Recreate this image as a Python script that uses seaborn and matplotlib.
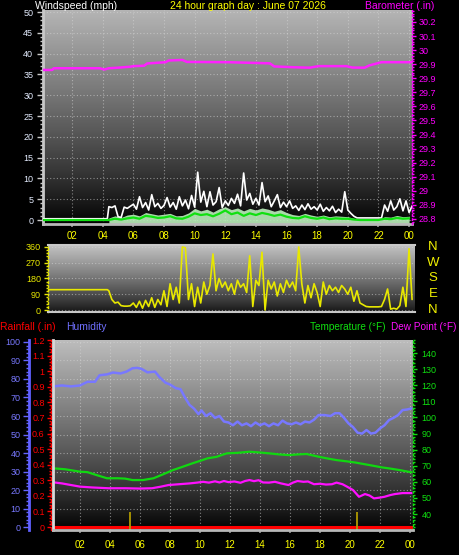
import numpy as np
import seaborn as sns
import matplotlib.pyplot as plt
from matplotlib.colors import LinearSegmentedColormap
from matplotlib.ticker import MultipleLocator, FixedLocator, FuncFormatter

# ---------------- data (hours of the day) ----------------
tick_hours = [2, 4, 6, 8, 10, 12, 14, 16, 18, 20, 22, 24]
tick_labels = ["02", "04", "06", "08", "10", "12", "14", "16", "18", "20", "22", "00"]

# wind: calm until ~04:24, then readings every 0.2 h (gust) / 0.4 h (speed, average)
wind_start = 4.4
calm_hours = [0.1, 4.3]
calm_gust = [0.3, 0.3]
calm_avg = [0.0, 0.0]
gust_mph = [3.2, 3.0, 3.4, 0.8, 0.6, 3.1,
            2.8, 3.3, 3.8, 2.6, 5.6, 3.0,
            4.2, 2.4, 6.1, 3.2, 4.0, 2.8,
            3.5, 5.4, 3.1, 4.2, 2.6, 5.6,
            3.4, 4.8, 2.7, 5.9, 3.1, 11.5,
            4.3, 6.9, 3.2, 6.8, 3.6, 4.4,
            7.8, 3.0, 4.6, 3.5, 5.2, 4.0,
            6.2, 3.4, 11.3, 4.8, 6.4, 3.8,
            5.2, 3.6, 9.0, 4.4, 5.8, 3.2,
            4.6, 6.1, 3.0, 4.3, 3.2, 4.6,
            2.8, 3.4, 2.3, 3.6, 2.5, 3.9,
            2.6, 3.2, 2.4, 3.8, 2.1, 3.0,
            2.2, 3.3, 1.8, 2.6, 1.9, 6.8,
            2.4, 1.6, 0.9, 0.5, 0.5, 0.5,
            0.5, 0.5, 0.5, 0.5, 0.5, 0.5,
            3.6, 2.1, 4.6, 2.4, 3.2, 5.1,
            2.2, 4.6, 1.8, 3.4]
speed_mph = [0.5, 1.0, 0.6, 1.2, 1.4, 1.0, 1.8, 1.5, 1.2, 1.4,
             1.6, 1.0, 1.1, 1.7, 2.8, 2.2, 2.6, 1.9, 2.7, 3.2,
             2.5, 2.9, 2.2, 2.8, 2.4, 2.9, 2.6, 2.1, 2.5, 1.8,
             1.3, 1.1, 1.6, 1.2, 0.9, 1.2, 0.8, 1.0, 0.9, 0.8,
             0.4, 0.1, 0.1, 0.1, 0.1, 0.8, 0.7, 1.1, 0.8, 0.9]
avg_mph = [0.0, 0.3, 0.1, 0.4, 0.6, 0.3, 1.0, 0.8, 0.5, 0.6,
           0.9, 0.4, 0.3, 0.8, 1.6, 1.2, 1.4, 0.9, 1.5, 2.3,
           1.4, 1.8, 1.0, 1.6, 1.2, 1.7, 1.4, 1.0, 1.3, 0.8,
           0.5, 0.4, 0.9, 0.5, 0.3, 0.6, 0.2, 0.4, 0.3, 0.3,
           0.1, 0.0, 0.0, 0.0, 0.0, 0.3, 0.2, 0.5, 0.3, 0.4]

baro_hours = [0.1, 0.7, 0.8, 3.8, 4.1, 4.4, 5.0, 5.8, 6.0, 6.7, 6.9, 8.1, 8.3, 9.2,
              9.5, 12.2, 14.9, 15.2, 16.5, 17.5, 18.1, 19.9, 20.3, 21.1, 21.4, 22.2, 24.2]
baro_in = [29.859, 29.859, 29.871, 29.871, 29.862, 29.871, 29.875, 29.882, 29.886,
           29.889, 29.905, 29.914, 29.926, 29.930, 29.916, 29.914, 29.906, 29.884,
           29.878, 29.875, 29.886, 29.886, 29.876, 29.875, 29.891, 29.914, 29.914]
baro_ticks = [28.8, 28.9, 29.0, 29.1, 29.2, 29.3, 29.4, 29.5, 29.6, 29.7, 29.8, 29.9, 30.0, 30.1, 30.2]
baro_labels = ["28.8", "28.9", "29", "29.1", "29.2", "29.3", "29.4", "29.5",
               "29.6", "29.7", "29.9", "29.9", "30", "30.1", "30.2"]

# wind direction: steady before the wind starts, then every 0.2 h
dir_calm_hours = [0.45, 4.3]
dir_calm_deg = [116, 116]
dir_deg = [110, 60, 40, 45, 25,
           22, 22, 24, 40, 15,
           50, 10, 55, 20, 70,
           15, 60, 30, 110, 20,
           150, 60, 130, 40, 360,
           355, 60, 150, 20, 130,
           40, 160, 90, 140, 320,
           110, 180, 130, 160, 110,
           150, 90, 170, 130, 150,
           100, 310, 20, 170, 140,
           330, 0, 170, 120, 160,
           80, 150, 100, 170, 130,
           160, 110, 360, 150, 40,
           140, 70, 150, 100, 20,
           160, 90, 140, 110, 130,
           100, 140, 120, 90, 130,
           50, 110, 40, 30, 20,
           18, 18, 18, 18, 20,
           60, 120, 5, 10, 5,
           25, 130, 20, 350, 60]
compass = ["N", "W", "S", "E", "N"]
compass_deg = [360, 270, 180, 90, 0]

hum_hours = [0.2, 0.8, 1.4, 2.0, 2.5, 3.0, 3.3, 3.8, 4.2, 4.7, 5.1, 5.5, 5.8, 6.1, 6.5, 7.0,
             7.3, 7.7, 8.0, 8.4, 8.7, 9.0, 9.3, 9.6, 9.9, 10.1, 10.4, 10.7, 11.0, 11.3, 11.6,
             11.9, 12.2, 12.5, 12.8, 13.1, 13.4, 13.7, 14.0, 14.3, 14.6, 14.9, 15.2, 15.5,
             15.8, 16.1, 16.4, 16.7, 17.0, 17.3, 17.6, 17.9, 18.3, 18.7, 19.0, 19.3, 19.6,
             19.9, 20.2, 20.5, 20.8, 21.1, 21.4, 21.7, 22.0, 22.3, 22.6, 22.9, 23.2, 23.5,
             23.8, 24.1]
hum_pct = [76, 76.5, 76, 76.5, 78.5, 78.5, 82, 82.5, 83.5, 83, 84, 85.8, 86, 85.5, 83.6, 84,
           81, 78, 77, 75, 74.5, 70, 66, 64, 61, 63, 60, 61.5, 59, 60, 57,
           56.5, 55, 57, 55, 56, 54.5, 56.5, 55, 56, 54.5, 56, 55, 57.5,
           56, 55.5, 56.5, 55.5, 57, 56.5, 58, 60.5, 60.5, 60, 61.5, 61.5, 59,
           56, 54, 51, 50.5, 52.4, 50.5, 51, 53.3, 55, 57.8, 59, 60.5, 63.2,
           63.5, 64.1]

temp_hours = [0.2, 1.0, 2.0, 2.5, 3.1, 3.8, 4.5, 5.0, 5.5, 6.2, 6.9, 7.5, 8.2, 8.8, 9.5,
              10.0, 10.5, 11.1, 11.5, 11.8, 12.5, 13.3, 14.0, 14.6, 15.3, 15.9, 16.5,
              17.1, 17.9, 18.5, 19.1, 19.8, 20.4, 21.3, 22.1, 22.7, 23.3, 24.1]
temp_f = [68.4, 67.8, 66.3, 66.0, 64.2, 62.2, 62.2, 62.0, 61.1, 61.1, 62.2, 64.5, 67.3,
          69.2, 71.5, 73.0, 74.6, 75.5, 76.8, 77.7, 78.0, 78.7, 78.2, 77.7, 77.0, 76.6,
          77.0, 77.3, 75.6, 74.5, 73.5, 72.7, 71.9, 70.4, 69.0, 68.2, 67.3, 65.9]

dew_hours = [0.2, 0.8, 1.4, 2.0, 2.8, 3.9, 5.0, 6.0, 6.8, 7.4, 7.9, 8.6, 9.3, 9.8, 10.2,
             10.6, 11.0, 11.3, 11.6, 11.9, 12.3, 12.7, 13.0, 13.3, 13.6, 13.9, 14.2, 14.6,
             15.0, 15.4, 15.9, 16.2, 16.5, 16.9, 17.2, 17.6, 18.0, 18.4, 18.8, 19.1, 19.5,
             19.8, 20.2, 20.6, 21.0, 21.3, 21.6, 22.0, 22.3, 22.7, 23.0, 23.5, 24.1]
dew_f = [59.7, 59.0, 58.0, 57.0, 56.5, 56.0, 56.0, 55.8, 56.0, 57.0, 58.0, 58.5, 59.0, 59.5,
         60.0, 59.5, 60.3, 59.6, 60.5, 59.8, 60.2, 59.4, 60.5, 61.1, 60.4, 61.0, 59.6, 59.5,
         60.0, 59.0, 58.0, 59.5, 60.5, 60.0, 60.2, 58.5, 58.8, 58.3, 58.5, 59.5, 58.5,
         57.0, 54.9, 50.7, 52.4, 51.5, 49.7, 50.2, 50.7, 51.8, 52.4, 53.0, 53.0]

rain_hours = [0.2, 24.2]
rain_in = [0.0, 0.0]
rain_event_hours = [5.33, 20.47]
rain_event_in = [0.095, 0.095]

# ---------------- figure ----------------
sns.set_theme(style="dark")
plt.rcParams['font.family'] = ['Liberation Sans', 'DejaVu Sans']

W, H = 459, 555
fig = plt.figure(figsize=(W / 100, H / 100), dpi=100, facecolor='black')


def box(x0, y0, x1, y1):
    return [x0 / W, 1 - y1 / H, (x1 - x0) / W, (y1 - y0) / H]


def shade(ax, top, bottom):
    cmap = LinearSegmentedColormap.from_list('bg', [bottom, top])
    ramp = np.linspace(1, 0, 256) ** 0.85
    ax.imshow(ramp.reshape(-1, 1), cmap=cmap, vmin=0, vmax=1, aspect='auto',
              extent=(0, 1, 0, 1), transform=ax.transAxes, zorder=0,
              interpolation='bilinear')


def clear_labels(*axes):
    for a in axes:
        a.set_xlabel('')
        a.set_ylabel('')


grid_kw = dict(color='#d8d8d8', ls=(0, (1, 2)), lw=0.8, alpha=0.55)

# ---- top: wind speed + barometer ----
ax_w = fig.add_axes(box(43, 10, 412, 224))
shade(ax_w, '#b4b4b4', '#000000')
gust_t = wind_start + 0.2 * np.arange(len(gust_mph))
slow_t = wind_start + 0.4 * np.arange(len(speed_mph))
ax_w.fill_between(slow_t, -0.96, speed_mph, color='#bcf0bc', alpha=0.9, lw=0, zorder=2)
sns.lineplot(x=calm_hours + list(gust_t), y=calm_gust + gust_mph, ax=ax_w,
             color='white', lw=1.2, zorder=3)
sns.lineplot(x=calm_hours + list(slow_t), y=calm_avg + avg_mph, ax=ax_w,
             color='#10e010', lw=1.6, zorder=4)

ax_b = ax_w.twinx()
sns.lineplot(x=baro_hours, y=baro_in, ax=ax_b, color='#ff20ff', lw=1.8)
clear_labels(ax_w, ax_b)

ax_w.set_ylim(-0.96, 50.5)
ax_b.set_ylim(28.764, 30.285)
ax_w.set_xlim(0.1, 24.19)
ax_w.set_xticks(tick_hours)
ax_w.set_xticklabels(tick_labels)
ax_w.yaxis.set_major_locator(MultipleLocator(5))
ax_w.yaxis.set_minor_locator(MultipleLocator(1))
ax_w.tick_params(axis='y', which='major', left=True, colors='#c8c8c8', labelcolor='#e4ecff',
                 length=4, width=1, labelsize=6.5, pad=3)
ax_w.tick_params(axis='y', which='minor', left=True, colors='#c8c8c8', length=2, width=1)
ax_w.tick_params(axis='x', bottom=True, colors='#909090', labelcolor='#ffff00',
                 length=2, labelsize=7, pad=3)
ax_w.grid(True, which='major', **grid_kw)
ax_b.yaxis.set_major_locator(FixedLocator(baro_ticks))
ax_b.set_yticklabels(baro_labels)
ax_b.yaxis.set_minor_locator(MultipleLocator(0.02))
ax_b.tick_params(axis='y', which='major', right=True, colors='#ff00ff', labelcolor='#ff00ff',
                 length=3, width=1, labelsize=6.5, pad=2)
ax_b.tick_params(axis='y', which='minor', right=True, colors='#ff00ff', length=1.5, width=1)
ax_w.spines['top'].set_visible(False)
ax_b.spines['top'].set_visible(False)
ax_w.spines['right'].set_visible(False)
ax_w.spines['left'].set(color='#c8c8c8', lw=2)
ax_w.spines['bottom'].set(color='#b8b8b8', lw=2)
ax_b.spines['left'].set_visible(False)
ax_b.spines['bottom'].set_visible(False)
ax_b.spines['right'].set(color='#ff00ff', lw=1, ls=(0, (1, 2)))

# ---- middle: wind direction ----
ax_d = fig.add_axes(box(48, 245, 415, 312))
shade(ax_d, '#c4c4c4', '#141414')
dir_t = wind_start + 0.2 * np.arange(len(dir_deg))
sns.lineplot(x=dir_calm_hours + list(dir_t), y=dir_calm_deg + dir_deg, ax=ax_d,
             color='#e8e800', lw=1.2, zorder=3)
clear_labels(ax_d)
ax_d.set_xlim(0.43, 24.39)
ax_d.set_ylim(-11.4, 371)
ax_d.set_xticks([])
ax_d.set_yticks([0, 90, 180, 270, 360])
ax_d.yaxis.set_minor_locator(MultipleLocator(18))
ax_d.tick_params(axis='y', which='major', left=True, colors='#e8e800', labelcolor='#e8e800',
                 length=3, width=1, labelsize=6.5, pad=2)
ax_d.tick_params(axis='y', which='minor', left=True, colors='#e8e800', length=1.5, width=1)
ax_d.grid(True, axis='y', **grid_kw)
ax_d.spines['right'].set_visible(False)
ax_d.spines['left'].set(color='#e8e800', lw=1, ls=(0, (1, 2)))
ax_d.spines['top'].set(color='#c8c8c8', lw=1.5)
ax_d.spines['bottom'].set(color='#c8c8c8', lw=1.5)
for lab, deg in zip(compass, compass_deg):
    ax_d.text(1.049, deg, lab, transform=ax_d.get_yaxis_transform(), color='#f0f000',
              fontsize=9.5, ha='center', va='center')

# ---- bottom: humidity, rainfall, temperature, dew point ----
ax_h = fig.add_axes(box(53, 340, 413, 530))
shade(ax_h, '#bcbcbc', '#000000')
sns.lineplot(x=hum_hours, y=hum_pct, ax=ax_h, color='#7878ff', lw=1.8, zorder=3)

ax_r = ax_h.twinx()
ax_r.set_ylim(-0.019, 1.2)
sns.lineplot(x=rain_hours, y=rain_in, ax=ax_r, color='#ff0000', lw=2.2)
ax_r.vlines(rain_event_hours, ax_r.get_ylim()[0], rain_event_in, color='#b09a00', lw=1.3)

ax_t = ax_h.twinx()
sns.lineplot(x=temp_hours, y=temp_f, ax=ax_t, color='#10d810', lw=1.6)
sns.lineplot(x=dew_hours, y=dew_f, ax=ax_t, color='#ff10ff', lw=1.6)
clear_labels(ax_h, ax_r, ax_t)

ax_h.set_xlim(0.2, 24.2)
ax_h.set_ylim(-1.62, 101.08)
ax_r.set_ylim(-0.019, 1.2)
ax_t.set_ylim(30.06, 148.1)
ax_h.set_xticks(tick_hours)
ax_h.set_xticklabels(tick_labels)
ax_h.tick_params(axis='x', bottom=True, colors='#909090', labelcolor='#ffff00',
                 length=2, labelsize=7, pad=5)
ax_h.yaxis.set_major_locator(MultipleLocator(10))
ax_h.yaxis.set_minor_locator(MultipleLocator(2))
ax_h.tick_params(axis='y', which='major', left=True, colors='#6464ff', labelcolor='#7878ff',
                 length=4, width=1, labelsize=6.5, pad=2)
ax_h.tick_params(axis='y', which='minor', left=True, colors='#6464ff', length=2, width=1)
ax_h.grid(True, which='major', **grid_kw)
for s in ['top', 'right', 'bottom']:
    ax_h.spines[s].set_visible(False)
ax_h.spines['left'].set_position(('outward', 17.3))
ax_h.spines['left'].set(color='#6060ff', lw=2)

ax_r.yaxis.tick_left()
ax_r.yaxis.set_major_locator(MultipleLocator(0.1))
ax_r.yaxis.set_minor_locator(MultipleLocator(0.02))
ax_r.yaxis.set_major_formatter(FuncFormatter(lambda v, p: f"{round(v, 1):g}"))
ax_r.tick_params(axis='y', which='major', left=True, right=False, colors='#ff0000',
                 labelcolor='#ff0000', length=3, width=1, labelsize=6.5, pad=1.5)
ax_r.tick_params(axis='y', which='minor', left=True, right=False, colors='#ff0000',
                 length=1.5, width=1)
for s in ['top', 'right', 'bottom']:
    ax_r.spines[s].set_visible(False)
ax_r.spines['left'].set_position(('outward', 1.5))
ax_r.spines['left'].set(visible=True, color='#ff0000', lw=1, ls=(0, (2, 2)))

ax_t.yaxis.set_major_locator(FixedLocator([40, 50, 60, 70, 80, 90, 100, 110, 120, 130, 140]))
ax_t.yaxis.set_minor_locator(MultipleLocator(2))
ax_t.tick_params(axis='y', which='major', right=True, colors='#10e010', labelcolor='#10e010',
                 length=3, width=1, labelsize=6.5, pad=3)
ax_t.tick_params(axis='y', which='minor', right=True, colors='#10e010', length=1.5, width=1)
ax_t.spines['top'].set_visible(False)
ax_t.spines['left'].set(visible=True, color='#d8d8d8', lw=2)
ax_t.spines['bottom'].set(visible=True, color='#b8b8b8', lw=2)
ax_t.spines['right'].set(color='#10e010', lw=1, ls=(0, (1, 2)))


# ---- titles ----
def label(x, y, s, color, ha='left', size=7.5):
    fig.text(x / W, 1 - y / H, s, color=color, fontsize=size, ha=ha, va='center')


label(35, 6, "Windspeed (mph)", 'white')
label(170, 6, "24 hour graph day : June 07 2026", '#ffff00')
label(434, 6, "Barometer (.in)", '#ff00ff', ha='right')
label(0, 327, "Rainfall (.in)", '#ff0000')
label(66, 327, "Humidity", '#7070ff')
label(386, 327, "Temperature (°F)", '#10e010', ha='right', size=7.2)
label(456, 327, "Dew Point (°F)", '#ff10ff', ha='right', size=7.2)

fig.savefig("out.png", dpi=100, facecolor='black')
